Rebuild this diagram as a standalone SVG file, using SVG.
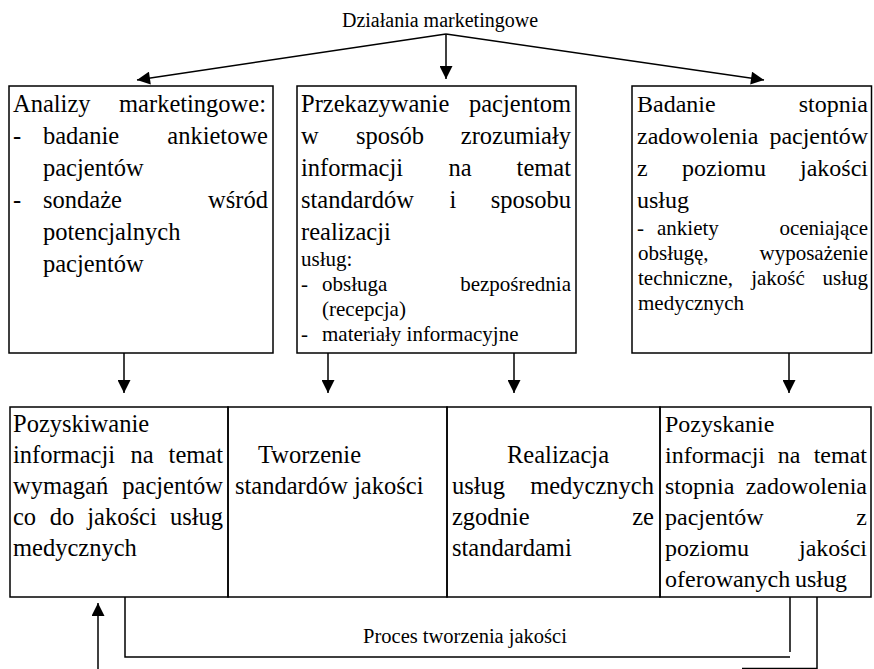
<svg xmlns="http://www.w3.org/2000/svg" width="874" height="669" viewBox="0 0 874 669">
<style>
.bg{fill:#fff}
.box{fill:none;stroke:#000;stroke-width:1.5}
.t{font-family:"Liberation Serif","Times New Roman",serif;font-size:24.5px;fill:#000}
.s{font-size:21px}
.h{font-size:20px}
.e{text-anchor:end}
.m{text-anchor:middle}
.ln{stroke:#000;stroke-width:1.5;fill:none}
</style>
<defs>
<marker id="ah" viewBox="0 0 10 10" refX="10" refY="5" markerWidth="15" markerHeight="13" markerUnits="userSpaceOnUse" orient="auto">
<path d="M0,0 L10,5 L0,10 z" fill="#000"/>
</marker>
</defs>
<rect class="bg" x="0" y="0" width="874" height="669"/>

<g id="title">
<text class="t h m" x="440" y="27">Działania marketingowe</text>
</g>

<g id="analizy">
<rect class="box" x="9" y="86" width="264" height="267"/>
<text class="t" x="13" y="112">Analizy</text><text class="t e" x="266" y="112">marketingowe:</text>
<text class="t" x="13" y="144">-</text><text class="t" x="43" y="144">badanie</text><text class="t e" x="268" y="144">ankietowe</text>
<text class="t" x="43" y="176">pacjentów</text>
<text class="t" x="13" y="208">-</text><text class="t" x="43" y="208">sondaże</text><text class="t e" x="268" y="208">wśród</text>
<text class="t" x="43" y="240">potencjalnych</text>
<text class="t" x="43" y="272">pacjentów</text>
</g>

<g id="przekazywanie">
<rect class="box" x="297" y="86" width="279" height="267"/>
<text class="t" x="301" y="112">Przekazywanie</text><text class="t e" x="571" y="112">pacjentom</text>
<text class="t" x="301" y="144">w</text><text class="t m" x="390" y="144">sposób</text><text class="t e" x="571" y="144">zrozumiały</text>
<text class="t" x="301" y="176">informacji</text><text class="t m" x="460" y="176">na</text><text class="t e" x="571" y="176">temat</text>
<text class="t" x="301" y="208">standardów</text><text class="t m" x="453" y="208">i</text><text class="t e" x="571" y="208">sposobu</text>
<text class="t" x="301" y="240">realizacji</text>
<text class="t s" x="301" y="266">usług:</text>
<text class="t s" x="301" y="291">-</text><text class="t s" x="322" y="291">obsługa</text><text class="t s e" x="571" y="291">bezpośrednia</text>
<text class="t s" x="322" y="316">(recepcja)</text>
<text class="t s" x="301" y="341">-</text><text class="t s" x="322" y="341">materiały informacyjne</text>
</g>

<g id="badanie">
<rect class="box" x="632" y="86" width="239.5" height="267"/>
<text class="t" x="637" y="112" style="font-size:24px">Badanie</text><text class="t e" x="868" y="112" style="font-size:24px">stopnia</text>
<text class="t" x="637" y="144" style="font-size:24px">zadowolenia</text><text class="t e" x="868" y="144" style="font-size:24px">pacjentów</text>
<text class="t" x="637" y="176" style="font-size:24px">z</text><text class="t m" x="724" y="176" style="font-size:24px">poziomu</text><text class="t e" x="868" y="176" style="font-size:24px">jakości</text>
<text class="t" x="637" y="208" style="font-size:24px">usług</text>
<text class="t s" x="637" y="235">-</text><text class="t s" x="657" y="235">ankiety</text><text class="t s e" x="868" y="235">oceniające</text>
<text class="t s" x="638" y="260">obsługę,</text><text class="t s e" x="868" y="260">wyposażenie</text>
<text class="t s" x="638" y="285">techniczne,</text><text class="t s m" x="778" y="285">jakość</text><text class="t s e" x="868" y="285">usług</text>
<text class="t s" x="638" y="310">medycznych</text>
</g>

<g id="pozyskiwanie">
<rect class="box" x="10" y="407" width="218" height="190"/>
<text class="t" x="13" y="432">Pozyskiwanie</text>
<text class="t" x="13" y="463">informacji</text><text class="t m" x="142" y="463">na</text><text class="t e" x="223" y="463">temat</text>
<text class="t" x="13" y="494">wymagań</text><text class="t e" x="223" y="494">pacjentów</text>
<text class="t" x="13" y="525">co</text><text class="t m" x="62" y="525">do</text><text class="t m" x="122" y="525">jakości</text><text class="t e" x="223" y="525">usług</text>
<text class="t" x="13" y="556">medycznych</text>
</g>

<g id="tworzenie">
<rect class="box" x="228" y="407" width="219" height="190"/>
<text class="t" x="258" y="463">Tworzenie</text>
<text class="t" x="235" y="494">standardów jakości</text>
</g>

<g id="realizacja">
<rect class="box" x="447" y="407" width="213" height="190"/>
<text class="t" x="507" y="463">Realizacja</text>
<text class="t" x="452" y="494">usług</text><text class="t e" x="654" y="494">medycznych</text>
<text class="t" x="452" y="525">zgodnie</text><text class="t e" x="654" y="525">ze</text>
<text class="t" x="452" y="556">standardami</text>
</g>

<g id="pozyskanie">
<rect class="box" x="660" y="407" width="211" height="190"/>
<text class="t" x="665" y="432" style="font-size:24px">Pozyskanie</text>
<text class="t" x="665" y="463" style="font-size:24px">informacji</text><text class="t m" x="789" y="463" style="font-size:24px">na</text><text class="t e" x="867" y="463" style="font-size:24px">temat</text>
<text class="t" x="665" y="494" style="font-size:24px">stopnia</text><text class="t e" x="867" y="494" style="font-size:24px">zadowolenia</text>
<text class="t" x="665" y="525" style="font-size:24px">pacjentów</text><text class="t e" x="867" y="525" style="font-size:24px">z</text>
<text class="t" x="665" y="556" style="font-size:24px">poziomu</text><text class="t e" x="867" y="556" style="font-size:24px">jakości</text>
<text class="t" x="665" y="587" style="font-size:24px">oferowanych</text><text class="t" x="795" y="587" style="font-size:24px">usług</text>
</g>

<g id="proces">
<text class="t m" x="465" y="643" style="font-size:20.5px">Proces tworzenia jakości</text>
</g>

<g id="connectors">
<line class="ln" x1="446" y1="34" x2="137" y2="80" marker-end="url(#ah)"/>
<line class="ln" x1="446" y1="34" x2="446" y2="79" marker-end="url(#ah)"/>
<line class="ln" x1="446" y1="34" x2="764" y2="80" marker-end="url(#ah)"/>
<line class="ln" x1="124" y1="353" x2="124" y2="393" marker-end="url(#ah)"/>
<line class="ln" x1="328" y1="353" x2="328" y2="393" marker-end="url(#ah)"/>
<line class="ln" x1="514" y1="353" x2="514" y2="393" marker-end="url(#ah)"/>
<line class="ln" x1="789" y1="353" x2="789" y2="393" marker-end="url(#ah)"/>
<polyline class="ln" points="125,597 125,657 790,657"/>
<line class="ln" x1="790" y1="597" x2="790" y2="652"/>
<line class="ln" x1="98" y1="669" x2="98" y2="603" marker-end="url(#ah)"/>
<line class="ln" x1="817" y1="597" x2="817" y2="669"/>
<line class="ln" x1="742" y1="668.5" x2="817" y2="668.5"/>
</g>
</svg>
